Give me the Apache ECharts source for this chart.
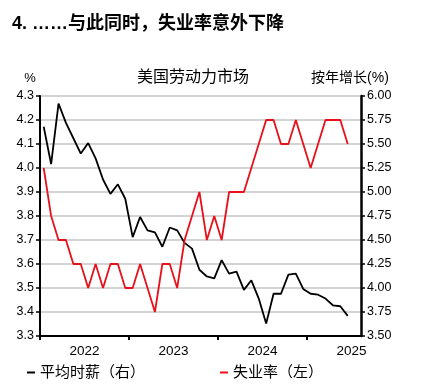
<!DOCTYPE html>
<html><head><meta charset="utf-8">
<script src="https://cdn.jsdelivr.net/npm/echarts@6/dist/echarts.min.js"></script>
<style>html,body{margin:0;padding:0;background:#fff}#c{width:430px;height:392px}</style>
</head><body><div id="c"></div>
<script>
var months = ['2022-01','2022-02','2022-03','2022-04','2022-05','2022-06','2022-07','2022-08','2022-09','2022-10','2022-11','2022-12',
'2023-01','2023-02','2023-03','2023-04','2023-05','2023-06','2023-07','2023-08','2023-09','2023-10','2023-11','2023-12',
'2024-01','2024-02','2024-03','2024-04','2024-05','2024-06','2024-07','2024-08','2024-09','2024-10','2024-11','2024-12',
'2025-01','2025-02','2025-03','2025-04','2025-05','2025-06'];
var wages = [5.68,5.29,5.92,5.72,5.56,5.40,5.51,5.35,5.13,4.98,5.08,4.93,
4.53,4.74,4.60,4.58,4.43,4.63,4.60,4.47,4.41,4.19,4.12,4.10,
4.29,4.15,4.17,3.98,4.08,3.89,3.63,3.94,3.94,4.14,4.15,3.99,
3.94,3.93,3.89,3.82,3.81,3.71];
var unemp = [4.0,3.8,3.7,3.7,3.6,3.6,3.5,3.6,3.5,3.6,3.6,3.5,
3.5,3.6,3.5,3.4,3.6,3.6,3.5,3.7,3.8,3.9,3.7,3.8,
3.7,3.9,3.9,3.9,4.0,4.1,4.2,4.2,4.1,4.1,4.2,4.1,
4.0,4.1,4.2,4.2,4.2,4.1];
var yearLabels = ['2022','2023','2024','2025'];
var leftTicks = {min:3.3, max:4.3, interval:0.1};
var rightTicks = {min:3.5, max:6.0, interval:0.25};

var FONT = "'Liberation Sans', 'Noto Sans CJK SC', sans-serif";
function pos(i){ return i + 0.5; } // mid-month on a month-count axis
function toPairs(arr){ return arr.map(function(v,i){ return [pos(i), v]; }); }

var chart = echarts.init(document.getElementById('c'), null, {renderer:'canvas'});
chart.setOption({
  animation:false,
  backgroundColor:'#fff',
  textStyle:{fontFamily:FONT},
  graphic:[
    {type:'text', x:12, y:24, style:{text:'4. ……与此同时，失业率意外下降', fontSize:18, fontWeight:'bold', fill:'#000', fontFamily:FONT, align:'left', verticalAlign:'middle'}},
    {type:'text', x:193, y:78, style:{text:'美国劳动力市场', fontSize:16, fill:'#000', fontFamily:FONT, align:'center', verticalAlign:'middle'}},
    {type:'text', x:30, y:78, style:{text:'%', fontSize:13, fill:'#000', fontFamily:FONT, align:'center', verticalAlign:'middle'}},
    {type:'text', x:350, y:78, style:{text:'按年增长(%)', fontSize:14, fill:'#000', fontFamily:FONT, align:'center', verticalAlign:'middle'}}
  ],
  legend:[
    {data:['平均时薪（右）'], left:27, top:365, padding:0, itemWidth:8, itemHeight:2, icon:'rect', textStyle:{fontSize:15, color:'#000', fontFamily:FONT}},
    {data:['失业率（左）'], left:220, top:365, padding:0, itemWidth:8, itemHeight:2, icon:'rect', textStyle:{fontSize:15, color:'#000', fontFamily:FONT}}
  ],
  grid:{left:40, right:69, top:96, bottom:56, containLabel:false},
  xAxis:{
    type:'value', min:0, max:43.29,
    axisLine:{show:true, lineStyle:{color:'#000', width:2}},
    axisTick:{show:true, inside:false, length:4, lineStyle:{color:'#000', width:2}, customValues:[0,12,24,36]},
    axisLabel:{customValues:[6,18,30,42], margin:9, fontSize:13.5, color:'#000', fontFamily:FONT,
      formatter:function(v){ return yearLabels[Math.round((v-6)/12)]; }},
    splitLine:{show:false}
  },
  yAxis:[
    {type:'value', position:'left', min:leftTicks.min, max:leftTicks.max, interval:leftTicks.interval,
      axisLine:{show:true, lineStyle:{color:'#000', width:2}},
      axisTick:{show:true, length:4, lineStyle:{color:'#000', width:1.5}},
      axisLabel:{margin:6, fontSize:12.5, color:'#000', fontFamily:FONT, formatter:function(v){return v.toFixed(1);}},
      splitLine:{show:true, lineStyle:{color:'#c4c4c4', width:1.5}}
    },
    {type:'value', position:'right', min:rightTicks.min, max:rightTicks.max, interval:rightTicks.interval,
      axisLine:{show:true, lineStyle:{color:'#000', width:2.5}},
      axisTick:{show:true, length:4, lineStyle:{color:'#000', width:1.5}},
      axisLabel:{margin:6, fontSize:12.5, color:'#000', fontFamily:FONT, formatter:function(v){return v.toFixed(2);}},
      splitLine:{show:false}
    }
  ],
  series:[
    {name:'平均时薪（右）', type:'line', yAxisIndex:1, data:toPairs(wages), showSymbol:false, symbol:'none',
      lineStyle:{color:'#000', width:1.8}, itemStyle:{color:'#000'}},
    {name:'失业率（左）', type:'line', yAxisIndex:0, data:toPairs(unemp), showSymbol:false, symbol:'none',
      lineStyle:{color:'#e8101a', width:1.8}, itemStyle:{color:'#e8101a'}}
  ]
});
</script></body></html>
